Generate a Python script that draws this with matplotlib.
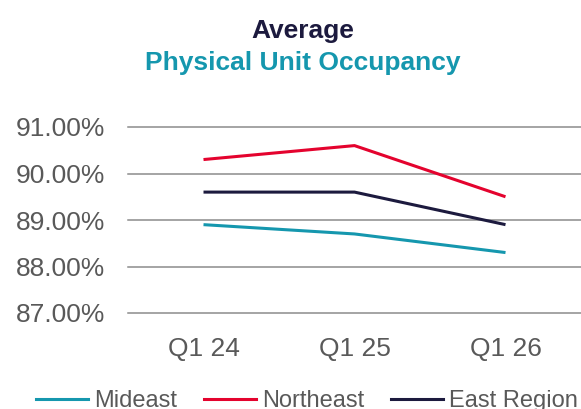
import matplotlib
matplotlib.use("Agg")
import matplotlib.pyplot as plt
from matplotlib.lines import Line2D

plt.rcParams['font.family'] = ['Liberation Sans', 'DejaVu Sans']

quarters = ["Q1 24", "Q1 25", "Q1 26"]
mideast = [88.9, 88.7, 88.3]
northeast = [90.3, 90.6, 89.5]
east_region = [89.6, 89.6, 88.9]
yticks = [87, 88, 89, 90, 91]

teal = "#1597AE"
red = "#E4032E"
navy = "#1C1A3E"
gray_txt = "#595959"

fig = plt.figure(figsize=(5.81, 4.09), dpi=100)
ax = fig.add_axes([128 / 581, 1 - 313 / 409, 1 - 128 / 581, (313 - 127) / 409])

x = range(len(quarters))
ax.plot(x, mideast, color=teal, lw=2.2, solid_capstyle="butt")
ax.plot(x, northeast, color=red, lw=2.2, solid_capstyle="butt")
ax.plot(x, east_region, color=navy, lw=2.2, solid_capstyle="butt")

ax.set_xlim(-0.5, 2.5)
ax.set_ylim(87, 91)
ax.set_yticks(yticks)
ax.set_yticklabels([f"{v:.2f}%" for v in yticks])
ax.set_xticks(list(x))
ax.set_xticklabels(quarters)
ax.tick_params(axis="y", length=0, pad=16.5, labelsize=19, labelcolor=gray_txt)
ax.tick_params(axis="x", length=0, pad=17, labelsize=19, labelcolor=gray_txt)
for s in ax.spines.values():
    s.set_visible(False)
ax.grid(axis="y", color="#8C8C8C", lw=1.1)
ax.set_axisbelow(True)
ax.patch.set_alpha(0)
for line in ax.get_ygridlines():
    line.set_clip_on(False)

fig.text(303 / 581, 1 - 38 / 409, "Average", ha="center", va="baseline",
         fontsize=19, fontweight="bold", color=navy)
fig.text(303 / 581, 1 - 70 / 409, "Physical Unit Occupancy", ha="center", va="baseline",
         fontsize=19, fontweight="bold", color=teal)

handles = [Line2D([], [], color=c, lw=2.2) for c in (teal, red, navy)]
leg = fig.legend(handles, ["Mideast", "Northeast", "East Region"], loc="lower left",
                 bbox_to_anchor=(36 / 581, -3 / 409), ncol=3, frameon=False,
                 fontsize=17, handlelength=2.2, handletextpad=0.25, columnspacing=1.15,
                 borderaxespad=0, borderpad=0)
for t in leg.get_texts():
    t.set_color(gray_txt)

fig.savefig("out.png", dpi=100)
